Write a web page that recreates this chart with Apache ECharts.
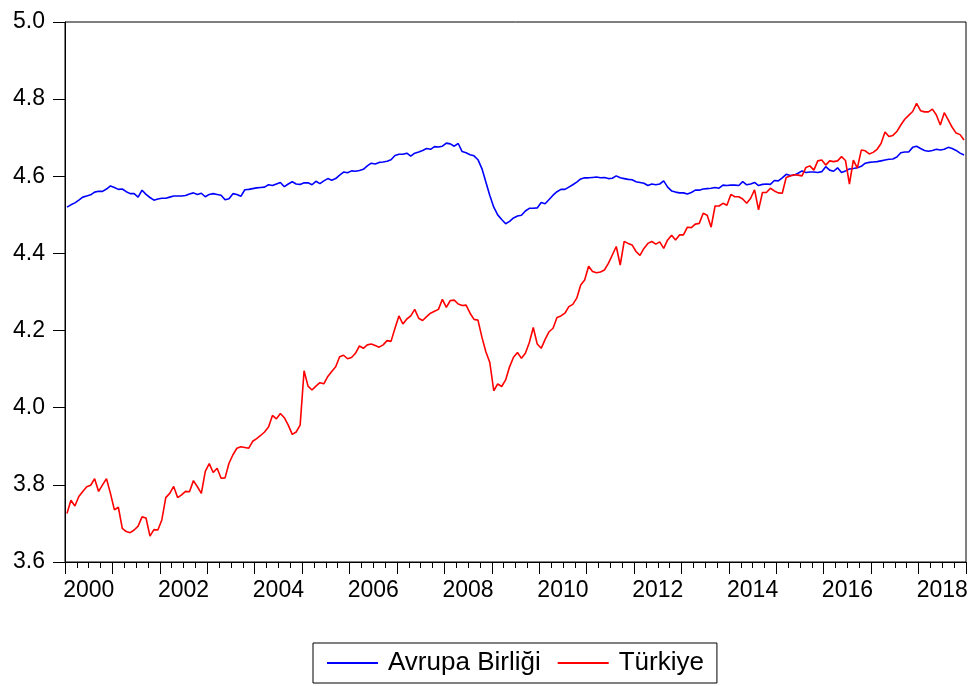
<!DOCTYPE html>
<html>
<head>
<meta charset="utf-8">
<script src="https://cdn.jsdelivr.net/npm/echarts@6/dist/echarts.min.js"></script>
<style>
html,body{margin:0;padding:0;background:#fff;}
#c{width:972px;height:686px;}
</style>
</head>
<body>
<div id="c"></div>
<script>
// Year labels (every other one shown)
const yearLabels = ['2000','2001','2002','2003','2004','2005','2006','2007','2008','2009','2010','2011','2012','2013','2014','2015','2016','2017','2018'];
const seriesNames = ['Avrupa Birliği', 'Türkiye'];

// Monthly values 2000M01 .. 2018M12 (228 observations each)
const avrupaBirligi = [
4.520,4.526,4.531,4.538,4.546,4.549,4.552,4.559,4.561,4.561,4.567,4.575,
4.571,4.566,4.567,4.560,4.555,4.555,4.546,4.564,4.553,4.545,4.538,4.541,
4.543,4.543,4.546,4.549,4.549,4.549,4.550,4.554,4.557,4.553,4.556,4.547,
4.553,4.555,4.553,4.551,4.539,4.542,4.555,4.553,4.548,4.565,4.566,4.568,
4.570,4.571,4.572,4.578,4.576,4.580,4.584,4.573,4.580,4.586,4.580,4.579,
4.583,4.583,4.578,4.587,4.581,4.588,4.594,4.590,4.594,4.603,4.611,4.609,
4.614,4.613,4.615,4.618,4.627,4.634,4.632,4.636,4.637,4.639,4.643,4.654,
4.657,4.657,4.660,4.652,4.660,4.663,4.667,4.672,4.670,4.677,4.676,4.678,
4.686,4.684,4.678,4.685,4.664,4.661,4.656,4.653,4.643,4.620,4.585,4.550,
4.520,4.500,4.488,4.477,4.483,4.492,4.497,4.499,4.510,4.517,4.517,4.518,
4.532,4.529,4.540,4.551,4.560,4.566,4.566,4.572,4.578,4.585,4.593,4.596,
4.596,4.597,4.598,4.596,4.597,4.594,4.595,4.601,4.596,4.594,4.592,4.591,
4.586,4.584,4.582,4.576,4.580,4.578,4.580,4.588,4.572,4.562,4.559,4.557,
4.557,4.554,4.558,4.564,4.564,4.567,4.568,4.569,4.571,4.569,4.577,4.576,
4.577,4.577,4.576,4.586,4.578,4.580,4.584,4.576,4.579,4.580,4.579,4.589,
4.588,4.596,4.605,4.602,4.603,4.608,4.614,4.610,4.611,4.611,4.610,4.612,
4.625,4.616,4.613,4.622,4.610,4.614,4.619,4.620,4.622,4.626,4.634,4.636,
4.637,4.638,4.640,4.642,4.644,4.645,4.650,4.661,4.663,4.663,4.675,4.678,
4.672,4.667,4.665,4.667,4.670,4.668,4.670,4.675,4.672,4.667,4.660,4.655
];
const turkiye = [
3.726,3.760,3.745,3.770,3.783,3.795,3.799,3.816,3.783,3.800,3.816,3.778,
3.735,3.742,3.687,3.679,3.676,3.683,3.693,3.717,3.714,3.667,3.684,3.683,
3.709,3.767,3.778,3.796,3.767,3.774,3.783,3.782,3.811,3.795,3.778,3.835,
3.855,3.832,3.843,3.817,3.818,3.856,3.878,3.895,3.899,3.897,3.895,3.913,
3.920,3.928,3.937,3.950,3.980,3.971,3.985,3.974,3.955,3.931,3.937,3.955,
4.096,4.056,4.046,4.056,4.065,4.062,4.081,4.094,4.106,4.132,4.136,4.127,
4.130,4.141,4.160,4.154,4.163,4.165,4.161,4.157,4.163,4.174,4.172,4.206,
4.238,4.217,4.230,4.238,4.255,4.232,4.226,4.236,4.245,4.250,4.255,4.281,
4.260,4.278,4.279,4.269,4.265,4.266,4.245,4.229,4.227,4.183,4.145,4.117,
4.044,4.062,4.055,4.072,4.106,4.131,4.143,4.128,4.141,4.169,4.208,4.165,
4.154,4.177,4.197,4.206,4.234,4.238,4.245,4.262,4.268,4.284,4.318,4.331,
4.367,4.353,4.350,4.352,4.357,4.374,4.396,4.418,4.370,4.431,4.426,4.422,
4.405,4.395,4.413,4.426,4.431,4.424,4.430,4.413,4.435,4.447,4.435,4.448,
4.448,4.468,4.467,4.476,4.478,4.504,4.499,4.468,4.523,4.523,4.530,4.525,
4.553,4.547,4.547,4.541,4.530,4.543,4.565,4.513,4.558,4.558,4.569,4.562,
4.557,4.556,4.597,4.601,4.604,4.603,4.601,4.623,4.627,4.616,4.640,4.642,
4.629,4.640,4.638,4.640,4.651,4.641,4.580,4.642,4.621,4.668,4.666,4.658,
4.662,4.670,4.685,4.715,4.703,4.706,4.716,4.733,4.748,4.758,4.768,4.789,
4.770,4.767,4.767,4.774,4.759,4.733,4.765,4.746,4.727,4.712,4.708,4.694
];

const monthLabels = [];
yearLabels.forEach(y => { for (let m = 1; m <= 12; m++) monthLabels.push(y + 'M' + (m < 10 ? '0' + m : m)); });

const FONT = 'Liberation Sans, Arial, sans-serif';
const chart = echarts.init(document.getElementById('c'), null, {renderer: 'canvas'});
chart.setOption({
  backgroundColor: '#ffffff',
  animation: false,
  grid: {left: 65, right: 6, top: 22, bottom: 124, show: true, borderColor: '#000', borderWidth: 1,
         backgroundColor: 'transparent', containLabel: false, outerBoundsMode: 'none'},
  xAxis: [
    { // data axis (hidden)
      type: 'category', data: monthLabels, boundaryGap: true, position: 'bottom',
      axisLine: {show: false}, axisTick: {show: false}, axisLabel: {show: false}, splitLine: {show: false}
    },
    { // tick axis
      type: 'value', min: 2000, max: 2019, interval: 1, position: 'bottom',
      axisLine: {show: true, onZero: false, lineStyle: {color: '#000', width: 1}},
      axisTick: {show: true, inside: false, length: 12, lineStyle: {color: '#000', width: 1}},
      minorTick: {show: true, splitNumber: 4, length: 6, lineStyle: {color: '#000', width: 1}},
      axisLabel: {show: false}, splitLine: {show: false}, minorSplitLine: {show: false}
    },
    { // year label axis
      type: 'category', data: yearLabels, boundaryGap: true, position: 'bottom',
      axisLine: {show: false}, axisTick: {show: false}, splitLine: {show: false},
      axisLabel: {show: true, interval: 1, margin: 17, color: '#000', fontSize: 23, fontFamily: FONT}
    }
  ],
  yAxis: {
    type: 'value', min: 3.6, max: 5.0, interval: 0.2,
    axisLine: {show: true, onZero: false, lineStyle: {color: '#000', width: 1}},
    axisTick: {show: true, inside: false, length: 12, lineStyle: {color: '#000', width: 1}},
    splitLine: {show: false},
    axisLabel: {margin: 20, color: '#000', fontSize: 23, fontFamily: FONT, padding: [0, 0, 10, 0],
      formatter: v => v.toFixed(1)}
  },
  legend: {
    data: seriesNames,
    left: 313, top: 643,
    orient: 'horizontal',
    borderColor: '#000', borderWidth: 1,
    padding: [7, 13, 7, 14],
    itemWidth: 51, itemHeight: 2, itemGap: 17,
    icon: 'rect',
    textStyle: {color: '#000', fontSize: 26, fontFamily: FONT, padding: [0, 0, 0, 5]}
  },
  series: [
    {name: seriesNames[0], type: 'line', xAxisIndex: 0, data: avrupaBirligi, showSymbol: false, symbol: 'none',
     lineStyle: {color: '#0000ff', width: 1.6}, itemStyle: {color: '#0000ff'}},
    {name: seriesNames[1], type: 'line', xAxisIndex: 0, data: turkiye, showSymbol: false, symbol: 'none',
     lineStyle: {color: '#ff0000', width: 1.6}, itemStyle: {color: '#ff0000'}}
  ]
});
</script>
</body>
</html>
